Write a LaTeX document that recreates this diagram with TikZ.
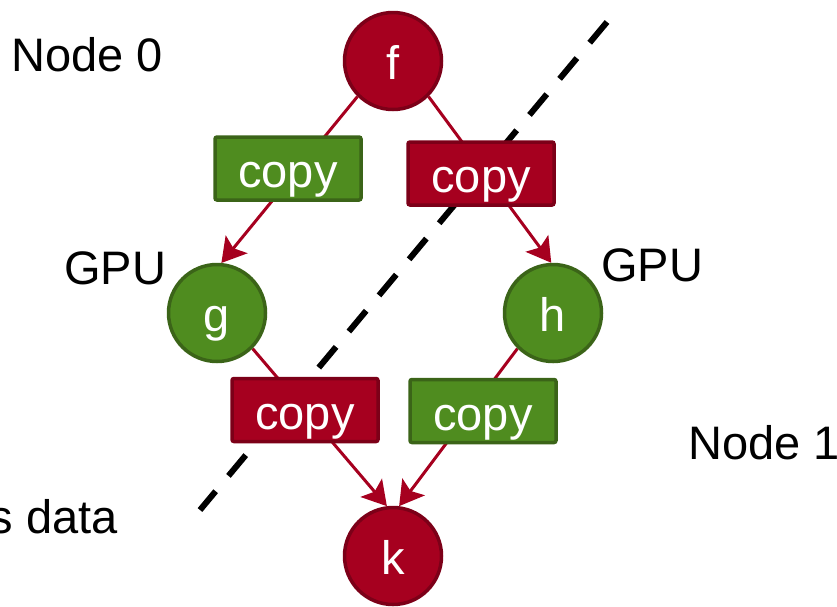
\documentclass[tikz,border=0pt]{standalone}
\usepackage{fontspec}
\setmainfont{Liberation Sans}
\usetikzlibrary{arrows.meta,backgrounds}

\definecolor{redfill}{HTML}{A6001F}
\definecolor{redline}{HTML}{7C0018}
\definecolor{greenfill}{HTML}{4F8C1F}
\definecolor{greenline}{HTML}{3B6418}

\tikzset{
  big/.style={font=\fontsize{47}{56}\selectfont},
  task/.style={circle, minimum size=97pt, inner sep=0pt, line width=3.5pt,
    text=white, big, text height=39pt, text depth=2pt},
  redtask/.style={task, fill=redfill, draw=redline},
  greentask/.style={task, fill=greenfill, draw=greenline},
  copybox/.style={rectangle, rounded corners=2pt, minimum width=146pt,
    minimum height=63pt, inner sep=0pt, line width=3.5pt, text=white, big,
    text height=40pt, text depth=2pt},
  redcopy/.style={copybox, fill=redfill, draw=redline},
  greencopy/.style={copybox, fill=greenfill, draw=greenline},
  edge/.style={draw=redfill, line width=3pt},
  arrowedge/.style={edge, -{Stealth[length=24pt, width=28pt, inset=5pt]}},
  label/.style={big, text=black, inner sep=0pt},
  cut/.style={line width=6pt, dash pattern=on 27pt off 20pt},
}

\begin{document}
\begin{tikzpicture}[x=1pt, y=-1pt]
  \useasboundingbox (0,0) rectangle (837,606);

  % tasks
  \node[redtask]   (f) at (393,61)  {f};
  \node[greentask] (g) at (217,313) {g};
  \node[greentask] (h) at (553,313) {h};
  \node[redtask]   (k) at (393,556) {k};

  % partition line and connectors sit behind the copy boxes
  \coordinate (cutA) at (607,22);
  \coordinate (cutB) at (200,510);
  \begin{scope}[on background layer]
    \draw[cut] (cutA) -- (cutB);
    \draw[arrowedge] (f.225) -- (g.85);
    \draw[arrowedge] (f.315) -- (h.92);
    \draw[arrowedge] (g.315) -- (k.97);
    \draw[arrowedge] (h.225) -- (k.83);
  \end{scope}

  % copy operations
  \node[greencopy] (c1) at (288,168.5) {copy};
  \node[redcopy]   (c2) at (481,173.5) {copy};
  \node[redcopy]   (c3) at (305,410)   {copy};
  \node[greencopy] (c4) at (483,411)   {copy};

  % labels
  \node[label, anchor=base west] (n0)   at (11,71)   {Node 0};
  \node[label, anchor=base west] (gpuL) at (64,284)  {GPU};
  \node[label, anchor=base west] (gpuR) at (601,281) {GPU};
  \node[label, anchor=base west] (n1)   at (688,459) {Node 1};
  \node[label, anchor=base east] (sd)   at (118,533) {s data};
\end{tikzpicture}
\end{document}
